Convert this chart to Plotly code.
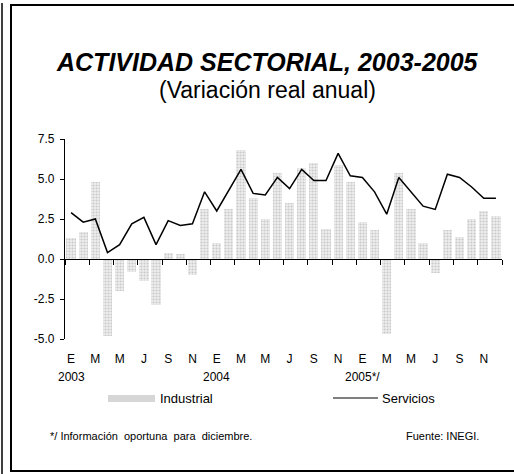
import plotly.graph_objects as go

# meses ene-2003 .. dic-2005
months = list(range(36))
month_labels = ["E", "M", "M", "J", "S", "N"] * 3
years = ["2003", "2004", "2005*/"]
y_ticks = [-5, -2.5, 0, 2.5, 5, 7.5]
y_labels = ["-5.0", "-2.5", "0.0", "2.5", "5.0", "7.5"]

industrial = [1.3, 1.7, 4.8, -4.8, -2.0, -0.8, -1.4, -2.9, 0.4, 0.3, -1.0, 3.1,
              1.0, 3.1, 6.8, 3.8, 2.5, 5.4, 3.5, 5.7, 6.0, 1.9, 5.9, 4.8,
              2.3, 1.8, -4.7, 5.4, 3.1, 1.0, -0.9, 1.8, 1.4, 2.5, 3.0, 2.7]
servicios = [2.9, 2.3, 2.5, 0.4, 0.9, 2.2, 2.6, 0.9, 2.4, 2.1, 2.2, 4.2,
             3.0, 4.3, 5.6, 4.1, 4.0, 5.1, 4.4, 5.6, 4.9, 4.9, 6.6, 5.2,
             5.1, 4.2, 2.8, 5.1, 4.2, 3.3, 3.1, 5.3, 5.1, 4.5, 3.8, 3.8]

FONT = "Liberation Sans, Arial, sans-serif"

# area del grafico en pixeles: x 65..502, y 139..339
L, R, T, B = 65, 502, 139, 339
W, H = 514, 474


def px(x):
    return (x - L) / (R - L)


def py(y):
    return (B - y) / (B - T)


def label(text, x, y, size, xanchor="center", xref="paper"):
    return dict(text=text, x=x, y=py(y), xref=xref, yref="paper",
                xanchor=xanchor, yanchor="middle", showarrow=False,
                font=dict(size=size))


fig = go.Figure()

fig.add_trace(go.Bar(
    x=months, y=industrial, width=0.76, name="Industrial",
    marker=dict(color="#eeeeee", line=dict(width=0),
                pattern=dict(shape=".", fgcolor="#a4a4a4", bgcolor="#eeeeee",
                             size=3, solidity=0.4)),
    xaxis="x", yaxis="y",
))
fig.add_trace(go.Scatter(
    x=months, y=servicios, mode="lines", name="Servicios",
    line=dict(color="black", width=1.5),
    xaxis="x", yaxis="y",
))
# eje en cero (solo dibuja la linea y las marcas)
fig.add_trace(go.Scatter(x=[None], y=[None], xaxis="x2", yaxis="y",
                         showlegend=False, hoverinfo="skip"))

shapes = [
    # marco exterior
    dict(type="rect", xref="paper", yref="paper",
         x0=px(11), x1=px(518), y0=py(471), y1=py(5),
         line=dict(color="black", width=2)),
    dict(type="line", xref="paper", yref="paper",
         x0=px(2), x1=px(2), y0=py(476), y1=py(3),
         line=dict(color="black", width=1.5)),
    # leyenda
    dict(type="rect", xref="paper", yref="paper",
         x0=px(108), x1=px(155), y0=py(402), y1=py(395),
         fillcolor="#d6d6d6", line=dict(width=0)),
    dict(type="line", xref="paper", yref="paper",
         x0=px(333), x1=px(378), y0=py(398), y1=py(398),
         line=dict(color="black", width=1.2)),
]

nota = " \u00a0".join(["*/ Información", "oportuna", "para", "diciembre."])
annotations = [
    label("<b><i>ACTIVIDAD SECTORIAL, 2003-2005</i></b>", px(267), 62, 25),
    label("(Variación real anual)", px(267), 90, 23),
    label("Industrial", px(158), 398, 13, "left"),
    label("Servicios", px(380), 398, 13, "left"),
    label(nota, px(48), 436, 11, "left"),
    label("Fuente: INEGI.", px(481), 436, 11, "right"),
]
for i, yr in enumerate(years):
    annotations.append(label(yr, months[12 * i], 377, 12, xref="x"))

fig.update_layout(
    width=W, height=H,
    margin=dict(l=L, r=W - R, t=T, b=H - B, pad=0),
    paper_bgcolor="white", plot_bgcolor="white",
    font=dict(family=FONT, color="black"),
    showlegend=False,
    bargap=0,
    shapes=shapes,
    annotations=annotations,
    xaxis=dict(
        range=[-0.5, 35.5], tickmode="array",
        tickvals=months[::2], ticktext=month_labels,
        showline=False, ticks="", showgrid=False, zeroline=False,
        tickfont=dict(size=12), ticklabelstandoff=11,
    ),
    xaxis2=dict(
        range=[-0.5, 35.5], overlaying="x", anchor="free", position=0.4,
        tickmode="array", tickvals=[m - 0.5 for m in months[::2]] + [35.5],
        showticklabels=False, ticks="outside", ticklen=5, tickcolor="black",
        showline=True, linecolor="black", linewidth=1.2, showgrid=False,
        zeroline=False,
    ),
    yaxis=dict(
        range=[-5, 7.5], tickmode="array", tickvals=y_ticks, ticktext=y_labels,
        showline=True, linecolor="black", linewidth=1.2, ticks="outside",
        ticklen=4, tickcolor="black", showgrid=False, zeroline=False,
        tickfont=dict(size=12), ticklabelstandoff=3,
    ),
)

fig.write_html("out.html", config={"displayModeBar": False},
               post_script="document.body.style.margin='0';")
